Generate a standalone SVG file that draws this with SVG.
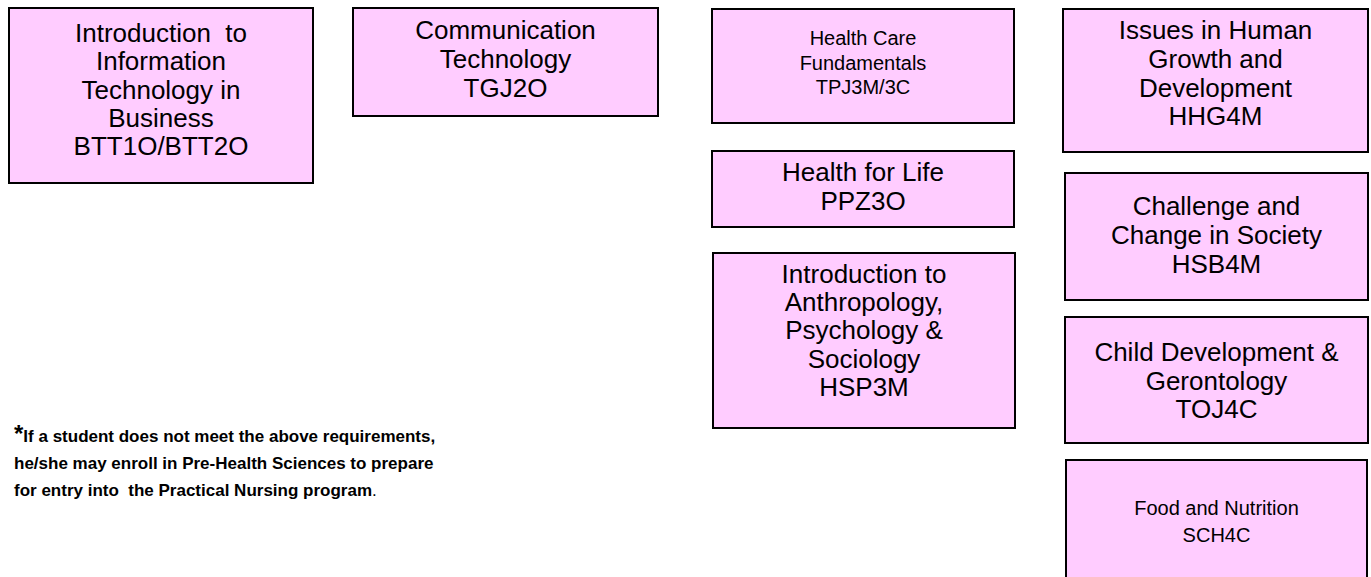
<svg xmlns="http://www.w3.org/2000/svg" width="1371" height="577" viewBox="0 0 1371 577">
<style>
text{white-space:pre}
.box{fill:#ffccff;stroke:#000;stroke-width:2}
.t{font-family:"Liberation Sans",Arial,sans-serif;font-size:26px;fill:#000;text-anchor:middle}
.s{font-size:20px}
.note{font-family:"Liberation Sans",Arial,sans-serif;font-size:17px;font-weight:bold;fill:#000}
</style>
<rect width="1371" height="577" fill="#fff"/>
<g id="connectors"></g>
<g id="btt">
<rect class="box" x="9" y="8" width="304" height="175"/>
<text class="t" x="161" y="42">Introduction  to</text>
<text class="t" x="161" y="70">Information</text>
<text class="t" x="161" y="98.5">Technology in</text>
<text class="t" x="161" y="127">Business</text>
<text class="t" x="161" y="155">BTT1O/BTT2O</text>
</g>
<g id="tgj">
<rect class="box" x="353" y="8" width="305" height="108"/>
<text class="t" x="505.5" y="39">Communication</text>
<text class="t" x="505.5" y="68">Technology</text>
<text class="t" x="505.5" y="97">TGJ2O</text>
</g>
<g id="tpj">
<rect class="box" x="712" y="9" width="302" height="114"/>
<text class="t s" x="863" y="45">Health Care</text>
<text class="t s" x="863" y="69.5">Fundamentals</text>
<text class="t s" x="863" y="94">TPJ3M/3C</text>
</g>
<g id="ppz">
<rect class="box" x="712" y="151" width="302" height="76"/>
<text class="t" x="863" y="181">Health for Life</text>
<text class="t" x="863" y="210">PPZ3O</text>
</g>
<g id="hsp">
<rect class="box" x="713" y="253" width="302" height="175"/>
<text class="t" x="864" y="283">Introduction to</text>
<text class="t" x="864" y="311">Anthropology,</text>
<text class="t" x="864" y="339">Psychology &amp;</text>
<text class="t" x="864" y="367.5">Sociology</text>
<text class="t" x="864" y="396">HSP3M</text>
</g>
<g id="hhg">
<rect class="box" x="1063" y="9" width="305" height="143"/>
<text class="t" x="1215.5" y="39">Issues in Human</text>
<text class="t" x="1215.5" y="68">Growth and</text>
<text class="t" x="1215.5" y="97">Development</text>
<text class="t" x="1215.5" y="125">HHG4M</text>
</g>
<g id="hsb">
<rect class="box" x="1065" y="173" width="303" height="127"/>
<text class="t" x="1216.5" y="215">Challenge and</text>
<text class="t" x="1216.5" y="244">Change in Society</text>
<text class="t" x="1216.5" y="273">HSB4M</text>
</g>
<g id="toj">
<rect class="box" x="1065" y="317" width="303" height="126"/>
<text class="t" x="1216.5" y="361">Child Development &amp;</text>
<text class="t" x="1216.5" y="389.5">Gerontology</text>
<text class="t" x="1216.5" y="418">TOJ4C</text>
</g>
<g id="sch">
<rect class="box" x="1066" y="460" width="301" height="130"/>
<text class="t s" x="1216.5" y="515">Food and Nutrition</text>
<text class="t s" x="1216.5" y="542">SCH4C</text>
</g>
<g id="footnote">
<text class="note" x="14" y="442"><tspan font-size="24">*</tspan>If a student does not meet the above requirements,</text>
<text class="note" x="14" y="469">he/she may enroll in Pre-Health Sciences to prepare</text>
<text class="note" x="14" y="496">for entry into  the Practical Nursing program<tspan font-weight="normal">.</tspan></text>
</g>
</svg>
